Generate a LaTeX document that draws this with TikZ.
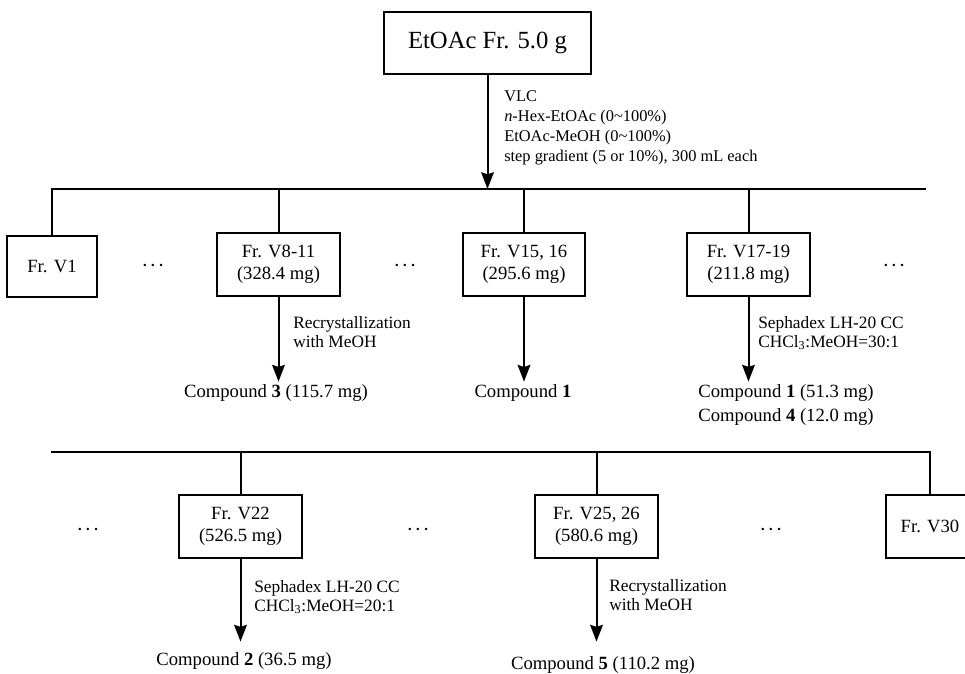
\documentclass[tikz,border=0pt]{standalone}
\usepackage{fontspec}
\setmainfont{Liberation Serif}
\usetikzlibrary{arrows.meta}

\begin{document}
\begin{tikzpicture}[>={Stealth[length=12.5pt,width=9.5pt,inset=1.5pt]}, x=0.75pt, y=-0.75pt,
  frac/.style={draw, line width=1.5pt, align=center, inner sep=0pt, minimum width=92pt, minimum height=47pt, font=\fontsize{14}{16.5}\selectfont},
  cmpd/.style={align=left, inner sep=2pt, font=\fontsize{14}{18}\selectfont},
  cond/.style={anchor=west, align=left, inner sep=0pt, font=\fontsize{13}{14.5}\selectfont},
  dots/.style={font=\fontsize{13}{15}\selectfont\boldmath},
  link/.style={line width=1.5pt}]
  \useasboundingbox (0,0) rectangle (965,674);

  % Extrait de depart
  \node[frac, minimum width=155pt, minimum height=46.5pt, font=\fontsize{18.5}{22}\selectfont] (etoac) at (487.5,43) {EtOAc Fr. 5.0 g};

  % Collecteurs
  \coordinate (bus1) at (926,189);
  \coordinate (bus2) at (51,452);

  % VLC
  \draw[link, ->] (etoac.south) -- (etoac.south |- bus1);
  \node[cond, font=\fontsize{12.3}{15}\selectfont] (vlc) at (504,128) {VLC\\\textit{n}-Hex-EtOAc (0\textasciitilde100\%)\\EtOAc-MeOH (0\textasciitilde100\%)\\step gradient (5 or 10\%), 300 mL each};

  % Fractions, rangee 1
  \node[frac, minimum width=67.5pt, minimum height=45.75pt] (v1) at (52,266.5) {Fr. V1};
  \node[frac] (v8) at (278.5,264.5) {Fr. V8-11\\(328.4 mg)};
  \node[frac] (v15) at (524,264.5) {Fr. V15, 16\\(295.6 mg)};
  \node[frac] (v17) at (748.5,264.5) {Fr. V17-19\\(211.8 mg)};
  \node[dots] (d1) at (153,266) {$\cdots$};
  \node[dots] (d2) at (405,266) {$\cdots$};
  \node[dots] (d3) at (894,266) {$\cdots$};
  \draw[link] (v1.north) |- (bus1);
  \foreach \f in {v8, v15, v17} \draw[link] (\f.north) -- (\f.north |- bus1);

  % Composes, rangee 1
  \node[cmpd] (c3) at (276,393) {Compound \textbf{3} (115.7 mg)};
  \node[cmpd] (c1) at (523,393) {Compound \textbf{1}};
  \node[cmpd] (c14) at (786,405) {Compound \textbf{1} (51.3 mg)\\Compound \textbf{4} (12.0 mg)};
  \draw[link, ->] (v8.south) -- (v8.south |- c3.north);
  \draw[link, ->] (v15.south) -- (v15.south |- c1.north);
  \draw[link, ->] (v17.south) -- (v17.south |- c14.north);
  \node[cond] (r1) at (293,332) {Recrystallization\\with MeOH};
  \node[cond] (s1) at (758,333) {Sephadex LH-20 CC\\CHCl\textsubscript{3}:MeOH=30:1};

  % Fractions, rangee 2
  \node[frac] (v22) at (240.5,526.5) {Fr. V22\\(526.5 mg)};
  \node[frac] (v25) at (596.5,526.5) {Fr. V25, 26\\(580.6 mg)};
  \node[frac, minimum width=66pt] (v30) at (930,526.5) {Fr. V30};
  \node[dots] (d4) at (88,530) {$\cdots$};
  \node[dots] (d5) at (418,530) {$\cdots$};
  \node[dots] (d6) at (771,530) {$\cdots$};
  \draw[link] (bus2) -| (v30.north);
  \foreach \f in {v22, v25} \draw[link] (\f.north) -- (\f.north |- bus2);

  % Composes, rangee 2
  \node[cmpd, inner ysep=8pt] (c2) at (244,661) {Compound \textbf{2} (36.5 mg)};
  \node[cmpd, inner ysep=11pt] (c5) at (603,665) {Compound \textbf{5} (110.2 mg)};
  \draw[link, ->] (v22.south) -- (v22.south |- c2.north);
  \draw[link, ->] (v25.south) -- (v25.south |- c5.north);
  \node[cond] (s2) at (254,597) {Sephadex LH-20 CC\\CHCl\textsubscript{3}:MeOH=20:1};
  \node[cond] (r2) at (609,595) {Recrystallization\\with MeOH};
\end{tikzpicture}
\end{document}
